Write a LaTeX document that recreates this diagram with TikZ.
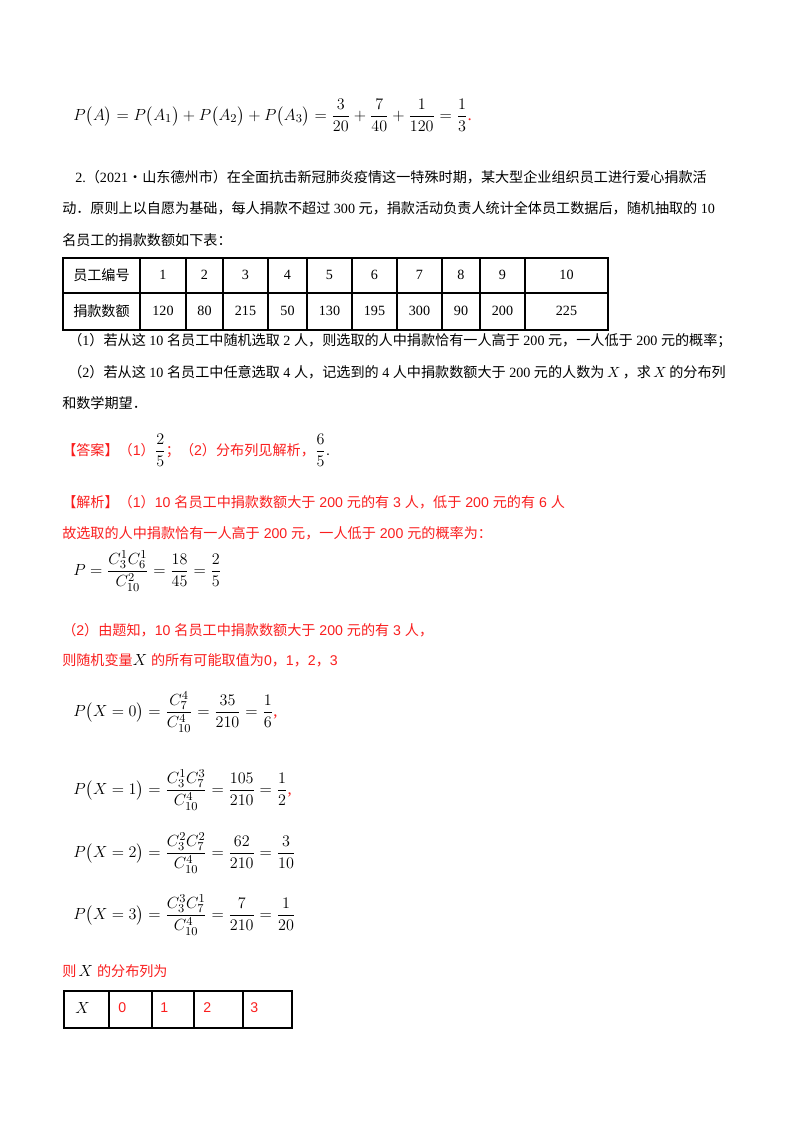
\documentclass[tikz,border=0pt]{standalone}
\usepackage{amsmath}
\usepackage{fontspec}
\setmainfont{Liberation Serif}
\setsansfont{Liberation Sans}
\newfontfamily\cjk{Noto Sans CJK SC}
\definecolor{rd}{RGB}{250,30,30}
\newcommand{\T}[1]{{\cjk #1}}
\newcommand{\lp}{\bigl(}
\newcommand{\rp}{\bigr)}
\begin{document}
\begin{tikzpicture}[x=0.744pt,y=-0.744pt,
  txt/.style={anchor=base west,inner sep=0pt,font=\fontsize{10.5pt}{12pt}\selectfont},
  rtxt/.style={txt,text=rd,font=\fontsize{10.5pt}{12pt}\selectfont\sffamily},
  mth/.style={anchor=west,inner sep=0pt,font=\fontsize{12.5pt}{14pt}\selectfont},
  cell/.style={inner sep=0pt,font=\fontsize{10.5pt}{12pt}\selectfont},
  grid/.style={line width=0.8pt}]
\useasboundingbox[fill=white] (0,0) rectangle (800,1132);
% first formula
\node[mth] (f0) at (73,115) {$P\lp A\rp=P\lp A_1\rp+P\lp A_2\rp+P\lp A_3\rp=\dfrac{3}{20}+\dfrac{7}{40}+\dfrac{1}{120}=\dfrac{1}{3}$\textcolor{rd}{.}};
% problem text
\node[txt] (l1) at (75,182) {2.\T{（}2021\T{•山东德州市）在全面抗击新冠肺炎疫情这一特殊时期，某大型企业组织员工进行爱心捐款活}};
\node[txt] (l2) at (62,213) {\T{动．原则上以自愿为基础，每人捐款不超过} 300 \T{元，捐款活动负责人统计全体员工数据后，随机抽取的} 10};
\node[txt] (l3) at (62,245) {\T{名员工的捐款数额如下表：}};
% table 1
\draw[grid] (63,258) rectangle (608,330);
\draw[grid] (63,293) -- (608,293);
\foreach \x in {140,186,223,268,307,352,397,442,480,525}{\draw[grid] (\x,258) -- (\x,330);}
\node[cell] (h0) at (101.5,275) {\T{员工编号}};
\node[cell] (d0) at (101.5,311) {\T{捐款数额}};
\foreach \a/\b/\n/\v in {140/186/1/120,186/223/2/80,223/268/3/215,268/307/4/50,307/352/5/130,352/397/6/195,397/442/7/300,442/480/8/90,480/525/9/200,525/608/10/225}{
  \node[cell] (h\n) at ({(\a+\b)/2},275) {\n};
  \node[cell] (d\n) at ({(\a+\b)/2},311) {\v};
}
\node[txt] (q1) at (68,345) {\T{（}1\T{）若从这} 10 \T{名员工中随机选取} 2 \T{人，则选取的人中捐款恰有一人高于} 200 \T{元，一人低于} 200 \T{元的概率；}};
\node[txt] (q2) at (68,377) {\T{（}2\T{）若从这} 10 \T{名员工中任意选取} 4 \T{人，记选到的} 4 \T{人中捐款数额大于} 200 \T{元的人数为}$\,X\,$\T{，求}$\,X\,$\T{的分布列}};
\node[txt] (q3) at (62,408) {\T{和数学期望．}};
% answer
\node[rtxt] (ans) at (62,455) {\T{【答案】（}1\T{）}\textcolor{black}{\rmfamily\fontsize{12.5pt}{14pt}\selectfont$\dfrac{2}{5}$}\T{；（}2\T{）分布列见解析，}\textcolor{black}{\rmfamily\fontsize{12.5pt}{14pt}\selectfont$\dfrac{6}{5}$}\textcolor{black}{.}};
% analysis
\node[rtxt] (a1) at (62,507) {\T{【解析】（}1\T{）}10 \T{名员工中捐款数额大于} 200 \T{元的有} 3 \T{人，低于} 200 \T{元的有} 6 \T{人}};
\node[rtxt] (a2) at (62,538) {\T{故选取的人中捐款恰有一人高于} 200 \T{元，一人低于} 200 \T{元的概率为：}};
\node[mth] (p1) at (73,571) {$P=\dfrac{C_3^1C_6^1}{C_{10}^2}=\dfrac{18}{45}=\dfrac{2}{5}$};
\node[rtxt] (b1) at (62,635) {\T{（}2\T{）由题知，}10 \T{名员工中捐款数额大于} 200 \T{元的有} 3 \T{人，}};
\node[rtxt] (b2) at (62,665) {\T{则随机变量}\textcolor{black}{\rmfamily\fontsize{12.5pt}{14pt}\selectfont$X$}\ \T{的所有可能取值为}0\T{，}1\T{，}2\T{，}3};
\node[mth] (x0) at (73,712) {$P\lp X=0\rp=\dfrac{C_7^4}{C_{10}^4}=\dfrac{35}{210}=\dfrac{1}{6}$\textcolor{rd}{,}};
\node[mth] (x1) at (73,790) {$P\lp X=1\rp=\dfrac{C_3^1C_7^3}{C_{10}^4}=\dfrac{105}{210}=\dfrac{1}{2}$\textcolor{rd}{,}};
\node[mth] (x2) at (73,853) {$P\lp X=2\rp=\dfrac{C_3^2C_7^2}{C_{10}^4}=\dfrac{62}{210}=\dfrac{3}{10}$};
\node[mth] (x3) at (73,915) {$P\lp X=3\rp=\dfrac{C_3^3C_7^1}{C_{10}^4}=\dfrac{7}{210}=\dfrac{1}{20}$};
\node[rtxt] (c1) at (62,976) {\T{则}\,\textcolor{black}{\rmfamily\fontsize{12.5pt}{14pt}\selectfont$X$}\ \T{的分布列为}};
% table 2
\draw[grid] (64,991) rectangle (292,1028);
\foreach \x in {109,152,194,243}{\draw[grid] (\x,991) -- (\x,1028);}
\node[anchor=west,inner sep=0pt,font=\fontsize{12.5pt}{14pt}\selectfont] (t0) at (75,1008) {$X$};
\foreach \x/\v in {118/0,160/1,203/2,250/3}{\node[anchor=west,inner sep=0pt,text=rd,font=\fontsize{10.5pt}{12pt}\selectfont\sffamily] (t\v) at (\x,1008) {\v};}
\end{tikzpicture}
\end{document}
